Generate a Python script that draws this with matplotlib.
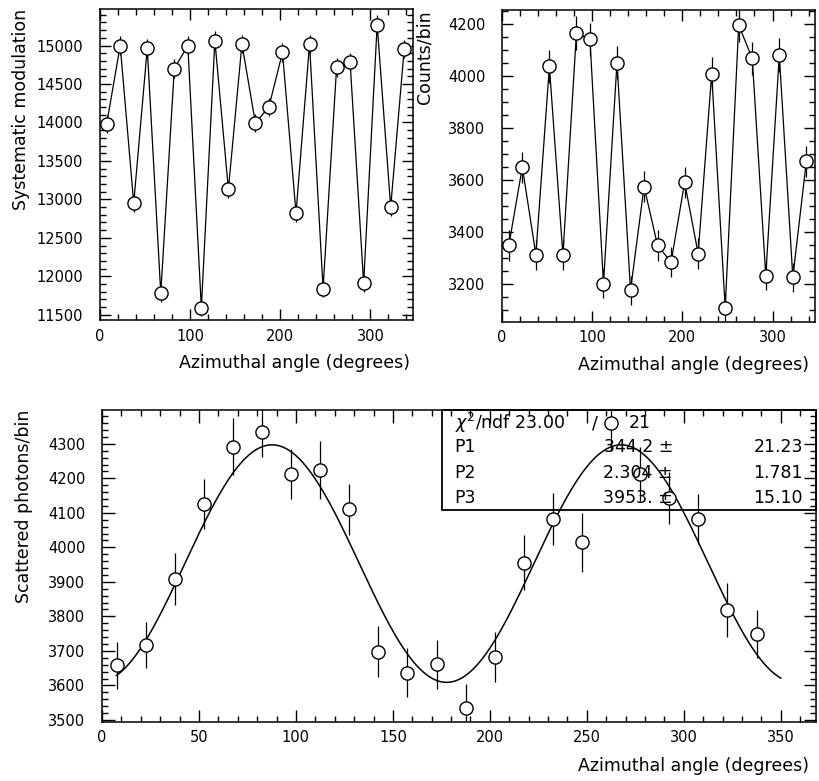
import numpy as np
import matplotlib
matplotlib.use("Agg")
import matplotlib.pyplot as plt
from matplotlib.patches import Rectangle
from matplotlib.ticker import MultipleLocator

# ── Data ───────────────────────────────────────────────────────────────────

angle = [7.5, 22.5, 37.5, 52.5, 67.5, 82.5, 97.5, 112.5, 127.5, 142.5, 157.5,
         172.5, 187.5, 202.5, 217.5, 232.5, 247.5, 262.5, 277.5, 292.5, 307.5,
         322.5, 337.5]

syst_mod = [13980, 15000, 12950, 14965, 11780, 14700, 15000, 11590, 15065,
            13130, 15020, 13990, 14205, 14910, 12820, 15020, 11840, 14715,
            14785, 11910, 15270, 12900, 14955]
syst_err = [118, 122, 114, 122, 109, 121, 122, 108, 123, 115, 123, 118, 119,
            122, 113, 123, 109, 121, 122, 109, 124, 114, 122]

counts = [3347, 3649, 3312, 4037, 3310, 4166, 4141, 3200, 4052, 3174, 3574,
          3347, 3283, 3590, 3316, 4009, 3106, 4196, 4068, 3231, 4081, 3224,
          3671]
counts_err = [58, 60, 58, 64, 58, 65, 64, 57, 64, 56, 60, 58, 57, 60, 58, 63,
              56, 65, 64, 57, 64, 57, 61]

scattered = [3659, 3717, 3909, 4125, 4292, 4333, 4212, 4224, 4110, 3698, 3637,
             3661, 3535, 3683, 3956, 4082, 4015, 4360, 4212, 4143, 4082, 3819,
             3749]
scattered_err = [68, 68, 76, 72, 82, 70, 72, 84, 75, 75, 70, 72, 70, 72, 80, 75,
                 85, 80, 78, 75, 72, 79, 70]

# fit result  P3 - P1*cos(2*(phi + P2))
fit_p1, fit_p2, fit_p3 = 344.2, 2.304, 3953.0
fit_range = (7.5, 350.0)

stat_names = ["P1", "P2", "P3"]
stat_vals = ["344.2 \u00b1", "2.304 \u00b1", "3953. \u00b1"]
stat_errs = ["21.23", "1.781", "15.10"]

XLABEL = "Azimuthal angle (degrees)"
FS = 10.5        # tick labels
FS_LABEL = 12.5  # axis titles
FS_STAT = 12.5   # fit box

plt.rcParams["font.family"] = "DejaVu Sans"
plt.rcParams["axes.linewidth"] = 1.1

fig = plt.figure(figsize=(8.19, 7.81), dpi=100)


def style_axes(ax, xmaj, xmin, ymaj, ymin, major_len=8.0, minor_len=4.0):
    ax.xaxis.set_major_locator(MultipleLocator(xmaj))
    ax.xaxis.set_minor_locator(MultipleLocator(xmin))
    ax.yaxis.set_major_locator(MultipleLocator(ymaj))
    ax.yaxis.set_minor_locator(MultipleLocator(ymin))
    ax.tick_params(which="both", direction="in", top=True, right=True,
                   width=1.0, labelsize=FS)
    ax.tick_params(which="major", length=major_len)
    ax.tick_params(which="minor", length=minor_len)
    ax.tick_params(axis="y", pad=12)
    ax.tick_params(axis="x", pad=6)


def draw_points(ax, x, y, err, connect):
    if connect:
        ax.plot(x, y, color="black", lw=0.9, zorder=2)
    ax.errorbar(x, y, yerr=err, fmt="none", ecolor="black", elinewidth=0.9,
                capsize=0, zorder=2)
    ax.plot(x, y, "o", ms=9.5, mfc="white", mec="black", mew=1.0,
            ls="none", zorder=3)


# ── top left: systematic modulation ───────────────────────────────────────
ax1 = fig.add_axes([0.122, 0.590, 0.382, 0.398])
draw_points(ax1, angle, syst_mod, syst_err, connect=True)
ax1.set_xlim(0, 347)
ax1.set_ylim(11430, 15470)
style_axes(ax1, 100, 20, 500, 100)
ax1.set_ylabel("Systematic modulation", fontsize=FS_LABEL, loc="top")
ax1.yaxis.set_label_coords(-0.222, 1.0)
ax1.set_xlabel(XLABEL, fontsize=FS_LABEL, loc="right")
ax1.xaxis.set_label_coords(0.99, -0.11)

# ── top right: counts per bin ─────────────────────────────────────────────
ax2 = fig.add_axes([0.613, 0.588, 0.382, 0.399])
draw_points(ax2, angle, counts, counts_err, connect=True)
ax2.set_xlim(0, 347)
ax2.set_ylim(3053, 4254)
style_axes(ax2, 100, 20, 200, 50)
ax2.set_ylabel("Counts/bin", fontsize=FS_LABEL, loc="top")
ax2.yaxis.set_label_coords(-0.218, 1.0)
ax2.set_xlabel(XLABEL, fontsize=FS_LABEL, loc="right")
ax2.xaxis.set_label_coords(0.98, -0.11)

# ── bottom: scattered photons with fit ────────────────────────────────────
ax3 = fig.add_axes([0.1245, 0.076, 0.8715, 0.399])
draw_points(ax3, angle, scattered, scattered_err, connect=False)
phi = np.linspace(fit_range[0], fit_range[1], 400)
curve = fit_p3 - fit_p1 * np.cos(2 * np.radians(phi + fit_p2))
ax3.plot(phi, curve, color="black", lw=1.1, zorder=2)
ax3.set_xlim(0, 368)
ax3.set_ylim(3495, 4398)
style_axes(ax3, 50, 10, 100, 20, major_len=9.0, minor_len=4.5)
ax3.set_ylabel("Scattered photons/bin", fontsize=FS_LABEL, loc="top")
ax3.yaxis.set_label_coords(-0.097, 1.0)
ax3.set_xlabel(XLABEL, fontsize=FS_LABEL, loc="right")
ax3.xaxis.set_label_coords(0.99, -0.115)

# stats box (transparent, ROOT style)
ax3.add_patch(Rectangle((0.476, 0.679), 0.524, 0.321, transform=ax3.transAxes,
                        fill=False, ec="black", lw=1.3, zorder=4,
                        clip_on=False))
row_y = [0.958, 0.881, 0.798, 0.718]
ax3.text(0.494, row_y[0], r"$\chi^2$/ndf 23.00", transform=ax3.transAxes,
         ha="left", va="center", fontsize=FS_STAT, zorder=5)
ax3.text(0.686, row_y[0], "/", transform=ax3.transAxes,
         ha="left", va="center", fontsize=FS_STAT, zorder=5)
ax3.text(0.738, row_y[0], "21", transform=ax3.transAxes,
         ha="left", va="center", fontsize=FS_STAT, zorder=5)
for name, val, err, yy in zip(stat_names, stat_vals, stat_errs, row_y[1:]):
    ax3.text(0.494, yy, name, transform=ax3.transAxes, ha="left",
             va="center", fontsize=FS_STAT, zorder=5)
    ax3.text(0.800, yy, val, transform=ax3.transAxes, ha="right",
             va="center", fontsize=FS_STAT, zorder=5)
    ax3.text(0.982, yy, err, transform=ax3.transAxes, ha="right",
             va="center", fontsize=FS_STAT, zorder=5)

fig.savefig("out.png", dpi=100)
